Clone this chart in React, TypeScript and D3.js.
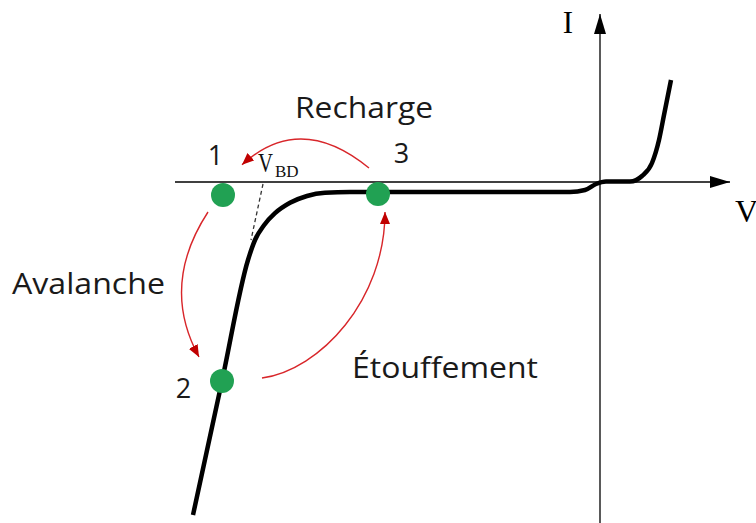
import React, { useEffect, useRef } from 'react';
import * as d3 from 'd3';

// I-V characteristic of the diode (V, I in arbitrary units)
const curveV = [-8.14, -7.56, -7.04, -6.9, -6.72, -6.5, -6.2, -5.86, -5.5, -5.0, -0.6, -0.3, -0.08, 0.12, 0.6, 0.84, 1.04, 1.18, 1.28, 1.42];
const curveI = [-8.325, -4.975, -1.95, -1.45, -1.08, -0.78, -0.52, -0.35, -0.27, -0.25, -0.25, -0.2, -0.05, 0.01, 0.01, 0.15, 0.475, 1.05, 1.675, 2.55];

// operating points 1, 2, 3
const pointNames = ['1', '2', '3'];
const pointV = [-7.54, -7.56, -4.44];
const pointI = [-0.325, -4.975, -0.3];
const pointLabelV = [-7.69, -8.33, -3.97];
const pointLabelI = [0.425, -5.4, 0.475];

// transitions between points (start, control(s), end)
const arrowNames = ['Recharge', 'Avalanche', 'Étouffement'];
const arrowPaths = [
  [[-4.62, 0.35], [-6.0, 1.76], [-7.16, 0.43]],
  [[-7.84, -0.75], [-8.8, -2.59], [-8.02, -4.375]],
  [[-6.76, -4.9], [-5.6, -4.7], [-4.3, -2.95], [-4.3, -0.75]],
];
const arrowLabelV = [-4.72, -10.23, -3.1];
const arrowLabelI = [1.6, -2.8, -4.9];
const arrowLabelWidth = [138, 153, 186];

// breakdown voltage extension
const vbdV = [-6.74, -6.98];
const vbdI = [-0.05, -1.45];

const App = () => {
  const ref = useRef<SVGSVGElement>(null);

  useEffect(() => {
    const svg = d3.select(ref.current);
    svg.selectAll('*').remove();

    const x = d3.scaleLinear().domain([-12, 3.12]).range([0, 756]);
    const y = d3.scaleLinear().domain([-8.525, 4.55]).range([523, 0]);

    const defs = svg.append('defs');
    defs.append('marker')
      .attr('id', 'axisHead')
      .attr('viewBox', '0 0 20 12')
      .attr('refX', 20).attr('refY', 6)
      .attr('markerUnits', 'userSpaceOnUse')
      .attr('markerWidth', 20).attr('markerHeight', 12)
      .attr('orient', 'auto')
      .append('path').attr('d', 'M0,0L20,6L0,12Z').attr('fill', '#000');
    defs.append('marker')
      .attr('id', 'redHead')
      .attr('viewBox', '0 0 12 10')
      .attr('refX', 12).attr('refY', 5)
      .attr('markerUnits', 'userSpaceOnUse')
      .attr('markerWidth', 12).attr('markerHeight', 10)
      .attr('orient', 'auto')
      .append('path').attr('d', 'M0,0L12,5L0,10Z').attr('fill', '#c00000');

    // axes
    svg.append('line')
      .attr('x1', x(-8.5)).attr('x2', x(2.6))
      .attr('y1', y(0)).attr('y2', y(0))
      .attr('stroke', '#000').attr('stroke-width', 1.3)
      .attr('marker-end', 'url(#axisHead)');
    svg.append('line')
      .attr('x1', x(0)).attr('x2', x(0))
      .attr('y1', y(-8.525)).attr('y2', y(4.2))
      .attr('stroke', '#000').attr('stroke-width', 1.3)
      .attr('marker-end', 'url(#axisHead)');

    svg.append('text')
      .attr('x', x(-0.64)).attr('y', y(3.725))
      .attr('text-anchor', 'middle')
      .attr('font-family', '"Liberation Serif", serif')
      .attr('font-size', 31)
      .text('I');
    svg.append('text')
      .attr('x', x(2.7)).attr('y', y(-1.0))
      .attr('font-family', '"Liberation Serif", serif')
      .attr('font-size', 32)
      .text('V');

    // dashed V_BD extension
    svg.append('line')
      .attr('x1', x(vbdV[0])).attr('y1', y(vbdI[0]))
      .attr('x2', x(vbdV[1])).attr('y2', y(vbdI[1]))
      .attr('stroke', '#333').attr('stroke-width', 1.3)
      .attr('stroke-dasharray', '4,3');

    const vbd = svg.append('text')
      .attr('x', x(-6.84)).attr('y', y(0.25))
      .attr('font-family', '"Liberation Serif", serif')
      .attr('fill', '#111');
    vbd.append('tspan').attr('font-size', 28).attr('textLength', 15).attr('lengthAdjust', 'spacingAndGlyphs').text('V');
    vbd.append('tspan').attr('font-size', 17).attr('dx', 2).attr('dy', 5).text('BD');

    // characteristic curve
    const line = d3.line<number>()
      .x((_, i) => x(curveV[i]))
      .y(d => y(d))
      .curve(d3.curveMonotoneX);
    svg.append('path')
      .attr('d', line(curveI))
      .attr('fill', 'none')
      .attr('stroke', '#000')
      .attr('stroke-width', 4.5)
      .attr('stroke-linecap', 'butt');

    // transition arrows
    arrowPaths.forEach((pts, k) => {
      const p = d3.path();
      const s = pts.map(d => [x(d[0]), y(d[1])]);
      p.moveTo(s[0][0], s[0][1]);
      if (s.length === 3) p.quadraticCurveTo(s[1][0], s[1][1], s[2][0], s[2][1]);
      else p.bezierCurveTo(s[1][0], s[1][1], s[2][0], s[2][1], s[3][0], s[3][1]);
      svg.append('path')
        .attr('d', p.toString())
        .attr('fill', 'none')
        .attr('stroke', '#d8262a')
        .attr('stroke-width', 1.4)
        .attr('marker-end', 'url(#redHead)');

      svg.append('text')
        .attr('x', x(arrowLabelV[k])).attr('y', y(arrowLabelI[k]))
        .attr('text-anchor', 'middle')
        .attr('font-family', '"Open Sans", sans-serif')
        .attr('font-size', 29)
        .attr('fill', '#1a1a1a')
        .attr('textLength', arrowLabelWidth[k])
        .attr('lengthAdjust', 'spacingAndGlyphs')
        .text(arrowNames[k]);
    });

    // operating points
    pointNames.forEach((name, k) => {
      svg.append('circle')
        .attr('cx', x(pointV[k])).attr('cy', y(pointI[k]))
        .attr('r', 12)
        .attr('fill', '#21a153');
      svg.append('text')
        .attr('x', x(pointLabelV[k])).attr('y', y(pointLabelI[k]))
        .attr('text-anchor', 'middle')
        .attr('font-family', '"Open Sans", sans-serif')
        .attr('font-size', 27)
        .attr('fill', '#1a1a1a')
        .text(name);
    });
  }, []);

  return (
    <svg
      ref={ref}
      width={756}
      height={523}
      style={{ position: 'absolute', left: 0, top: 0, background: '#fff' }}
    />
  );
};

export default App;
